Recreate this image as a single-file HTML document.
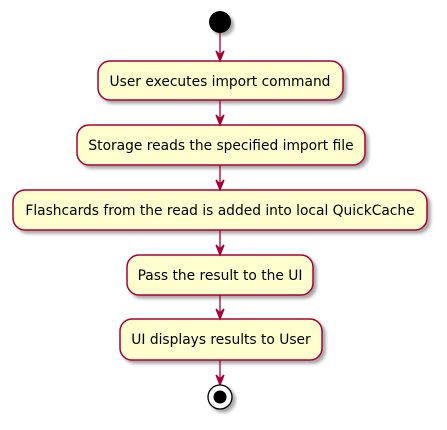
<!DOCTYPE html>
<html><head><meta charset="utf-8"><style>
html,body{margin:0;padding:0;background:#fff;width:447px;height:430px;overflow:hidden}
text{font-family:"DejaVu Sans","Liberation Sans",sans-serif;font-size:13.8px;fill:#000}
</style></head><body>
<svg width="447" height="430" xmlns="http://www.w3.org/2000/svg">
<defs>
<filter id="sh" x="-10%" y="-20%" width="130%" height="160%">
<feGaussianBlur in="SourceAlpha" stdDeviation="1.5"/><feOffset dx="3" dy="3"/>
<feComponentTransfer><feFuncA type="linear" slope="0.35"/></feComponentTransfer>
<feMerge><feMergeNode/><feMergeNode in="SourceGraphic"/></feMerge></filter>
</defs>
<circle cx="220" cy="22" r="11" fill="#000" filter="url(#sh)"/>
<g fill="#FEFECE" stroke="#A80036" stroke-width="1.5" filter="url(#sh)">
<rect x="98" y="61" width="245" height="39" rx="12"/>
<rect x="77" y="125" width="288" height="40" rx="12"/>
<rect x="13" y="190" width="414" height="40" rx="12"/>
<rect x="127" y="255" width="186" height="40" rx="12"/>
<rect x="120" y="319" width="202" height="41" rx="12"/>
</g>
<g stroke="#A80036" stroke-width="1.3" fill="#A80036">
<line x1="220" y1="33" x2="220" y2="60"/><path d="M216,51 L220,61 L224,51 L220,55 Z"/>
<line x1="220" y1="100" x2="220" y2="124"/><path d="M216,115 L220,125 L224,115 L220,119 Z"/>
<line x1="220" y1="165" x2="220" y2="189"/><path d="M216,180 L220,190 L224,180 L220,184 Z"/>
<line x1="220" y1="230" x2="220" y2="254"/><path d="M216,245 L220,255 L224,245 L220,249 Z"/>
<line x1="220" y1="295" x2="220" y2="318"/><path d="M216,309 L220,319 L224,309 L220,313 Z"/>
<line x1="220" y1="360" x2="220" y2="384"/><path d="M216,375 L220,385 L224,375 L220,379 Z"/>
</g>
<circle cx="220" cy="397" r="12" fill="#fff" stroke="#000" stroke-width="1.3" filter="url(#sh)"/>
<circle cx="220" cy="397" r="6.5" fill="#000"/>
<g text-anchor="middle">
<text x="220" y="86">User executes import command</text>
<text x="221" y="150">Storage reads the specified import file</text>
<text x="220" y="215">Flashcards from the read is added into local QuickCache</text>
<text x="220" y="280">Pass the result to the UI</text>
<text x="221" y="344">UI displays results to User</text>
</g>
</svg>
</body></html>
